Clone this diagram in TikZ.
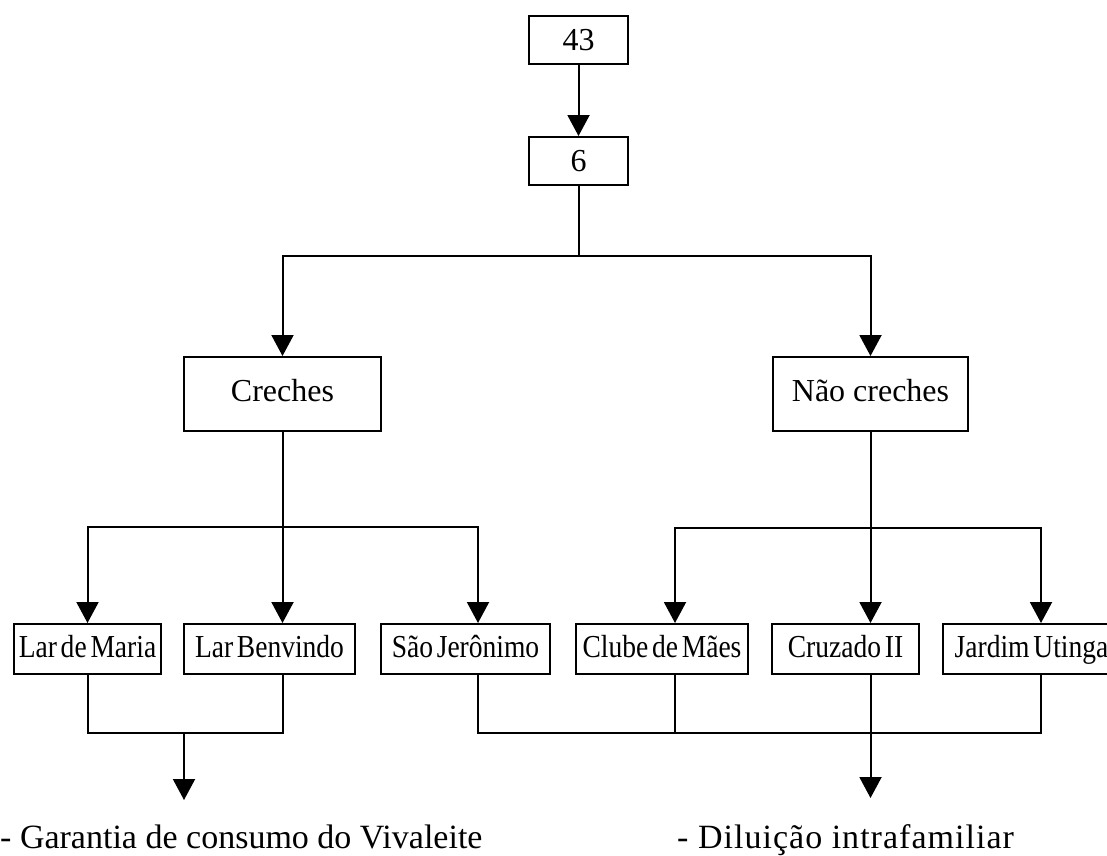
\documentclass[tikz,border=0pt]{standalone}
\usepackage{fontspec}
\setmainfont{Liberation Serif}
\newfontfamily\condfont{Liberation Serif}[FakeStretch=0.86,WordSpace=0.55]
\newfontfamily\widefont{Liberation Serif}[LetterSpace=3]
\usetikzlibrary{arrows.meta}
\tikzset{
  ln/.style={line width=2pt},
  arr/.style={line width=2pt,-{Triangle[width=22pt,length=21pt]}},
  box/.style={draw,line width=2pt,rectangle,inner sep=0pt,text height=22pt,text depth=7pt,font=\fontsize{32}{36}\selectfont},
  numbox/.style={box,text height=22pt,text depth=2pt,minimum width=99pt,minimum height=48pt},
  rowbox/.style={draw,line width=2pt,rectangle,inner sep=0pt,minimum height=50pt,text height=22pt,text depth=6pt,font=\condfont\fontsize{32}{36}\selectfont},
  btext/.style={inner sep=0pt,anchor=base west,font=\fontsize{34}{40}\selectfont}
}
\begin{document}
\begin{tikzpicture}[x=1pt,y=-1pt]
\useasboundingbox (0,0) rectangle (1107,855);
\fill[white] (0,0) rectangle (1107,855);
% top
\node[numbox] (n43) at (578.5,40) {43};
\node[numbox] (n6) at (578.5,161) {6};
\node[box,minimum width=197pt,minimum height=74pt] (creches) at (282.5,394) {Creches};
\node[box,minimum width=195pt,minimum height=74pt] (nao) at (870.5,394) {Não creches};
% rows
\node[rowbox,minimum width=147pt] (lm) at (87.5,649) {Lar de Maria};
\node[rowbox,minimum width=171pt] (lb) at (269.5,649) {Lar Benvindo};
\node[rowbox,minimum width=169pt] (sj) at (465.5,649) {São Jerônimo};
\node[rowbox,minimum width=172pt] (cm) at (662,649) {Clube de Mães};
\node[rowbox,minimum width=147pt] (cz) at (845.5,649) {Cruzado II};
\node[rowbox,minimum width=177pt] (ju) at (1031.5,649) {Jardim Utinga};
% bottom texts
\node[btext] (t1) at (0,848) {- Garantia de consumo do Vivaleite};
\node[btext,font=\widefont\fontsize{34}{40}\selectfont] (t2) at (677,848) {- Diluição intrafamiliar};
% coordinates
\coordinate (j1) at (578.5,256);
\coordinate (j2) at (283,527);
\coordinate (j3) at (870.5,528);
\coordinate (j4) at (184,733);
\coordinate (j5) at (870.5,733);
\coordinate (e1) at (184,800);
\coordinate (e2) at (870.5,798);
% connectors
\draw[arr] (n43.south) -- (n6.north);
\draw[ln] (n6.south) -- (j1);
\draw[arr] (j1) -| (creches.north);
\draw[arr] (j1) -| (nao.north);
\draw[arr] (creches.south) -- (creches.south |- lb.north);
\draw[arr] (j2) -| (lm.north);
\draw[arr] (j2) -| ([xshift=12.5pt]sj.north);
\draw[arr] (nao.south) -- (nao.south |- cz.north);
\draw[arr] (j3) -| ([xshift=13pt]cm.north);
\draw[arr] (j3) -| ([xshift=9.5pt]ju.north);
\draw[ln] (lm.south) |- (j4) -| ([xshift=13.5pt]lb.south);
\draw[arr] (j4) -- (e1);
\draw[ln] ([xshift=12.5pt]sj.south) |- (j5) -| ([xshift=9.5pt]ju.south);
\draw[ln] ([xshift=13pt]cm.south) -- ([xshift=13pt]cm.south |- j5);
\draw[arr] (nao.south |- cz.south) -- (e2);
\end{tikzpicture}
\end{document}
